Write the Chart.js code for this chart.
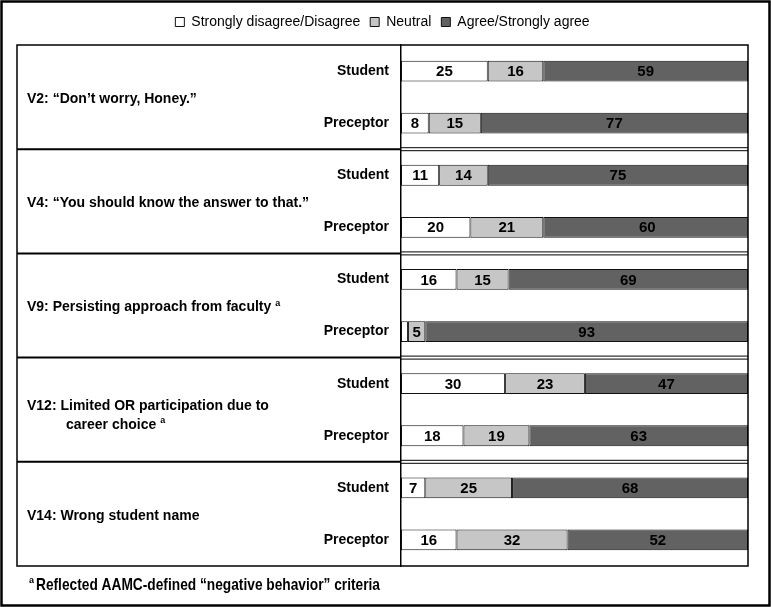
<!DOCTYPE html>
<html>
<head>
<meta charset="utf-8">
<script src="https://cdn.jsdelivr.net/npm/chart.js@4.4.1/dist/chart.umd.min.js"></script>
<style>
  html, body { margin: 0; padding: 0; background: #fff; }
  #wrap { width: 771px; height: 607px; }
</style>
</head>
<body>
<div id="wrap"><canvas id="chart"></canvas></div>
<script>
// survey items, one block per item (Student row + Preceptor row)
const groupLabels = [
  ['V2: \u201cDon\u2019t worry, Honey.\u201d'],
  ['V4: \u201cYou should know the answer to that.\u201d'],
  ['V9: Persisting approach from faculty'],
  ['V12: Limited OR participation due to', 'career choice'],
  ['V14: Wrong student name']
];
const groupFootnoted = [false, false, true, true, false];
const respondents = ['Student', 'Preceptor'];
const seriesNames = ['Strongly disagree/Disagree', 'Neutral', 'Agree/Strongly agree'];

// percentages, rows in order V2 Student, V2 Preceptor, V4 Student, ...
const disagree = [25, 8, 11, 20, 16, 2, 30, 18, 7, 16];
const neutral  = [16, 15, 14, 21, 15, 5, 23, 19, 25, 32];
const agree    = [59, 77, 75, 60, 69, 93, 47, 63, 68, 52];

const footnote = 'Reflected AAMC-defined \u201cnegative behavior\u201d criteria';

const rowLabels = [];
groupLabels.forEach(() => respondents.forEach(r => rowLabels.push(r)));

const FONT = '"Liberation Sans", Arial, sans-serif';

const boxPlugin = {
  id: 'boxes',
  afterDatasetsDraw(chart) {
    const ctx = chart.ctx;
    ctx.save();
    ctx.font = 'bold 15px ' + FONT;
    ctx.fillStyle = '#000';
    ctx.textAlign = 'center';
    ctx.textBaseline = 'middle';
    chart.data.datasets.forEach((ds, di) => {
      chart.getDatasetMeta(di).data.forEach((bar, i) => {
        const v = ds.data[i];
        if (v < 4) return;
        const p = bar.getProps(['x', 'base', 'y'], true);
        ctx.fillText(String(v), (p.x + p.base) / 2, p.y + 1);
      });
    });
    ctx.restore();
  },
  afterDraw(chart) {
    const ctx = chart.ctx;
    const area = chart.chartArea;
    const yScale = chart.scales.y;
    const left = yScale.left;
    ctx.save();

    // outer frame
    ctx.strokeStyle = '#000';
    ctx.lineWidth = 2.5;
    ctx.strokeRect(1.5, 1.5, chart.width - 3, chart.height - 3);

    // inner box
    ctx.lineWidth = 1.5;
    ctx.strokeRect(left, area.top, area.right - left, area.bottom - area.top);

    // separators between items
    for (let g = 1; g < groupLabels.length; g++) {
      const b = (yScale.getPixelForValue(2 * g - 1) + yScale.getPixelForValue(2 * g)) / 2;
      ctx.lineWidth = 2;
      ctx.beginPath();
      ctx.moveTo(left, b); ctx.lineTo(area.left, b);
      ctx.stroke();
      ctx.lineWidth = 1;
      ctx.beginPath();
      ctx.moveTo(area.left, b - 1.5); ctx.lineTo(area.right, b - 1.5);
      ctx.moveTo(area.left, b + 1.5); ctx.lineTo(area.right, b + 1.5);
      ctx.stroke();
    }

    // item labels
    ctx.fillStyle = '#000';
    ctx.textAlign = 'left';
    ctx.textBaseline = 'middle';
    groupLabels.forEach((lines, g) => {
      const c = (yScale.getPixelForValue(2 * g) + yScale.getPixelForValue(2 * g + 1)) / 2;
      const start = lines.length > 1 ? c - 4 : c + 2;
      lines.forEach((line, k) => {
        const x = k === 0 ? left + 10 : left + 49;
        const y = start + k * 19;
        ctx.font = 'bold 14px ' + FONT;
        ctx.fillText(line, x, y);
        if (groupFootnoted[g] && k === lines.length - 1) {
          const w = ctx.measureText(line).width;
          ctx.font = 'bold 9px ' + FONT;
          ctx.fillText('a', x + w + 4, y - 4);
        }
      });
    });

    // footnote, condensed to the width it has in the original
    const fy = area.bottom + 19;
    ctx.font = 'bold 9px ' + FONT;
    ctx.fillText('a', 29, fy - 4);
    ctx.font = 'bold 17px ' + FONT;
    const fw = ctx.measureText(footnote).width;
    ctx.save();
    ctx.translate(36, fy);
    ctx.scale(344 / fw, 1);
    ctx.fillText(footnote, 0, 0);
    ctx.restore();

    ctx.restore();
  }
};

const colors = ['#ffffff', '#c6c6c6', '#626262'];
const series = [disagree, neutral, agree];

new Chart(document.getElementById('chart'), {
  type: 'bar',
  data: {
    labels: rowLabels,
    datasets: series.map((d, i) => ({
      label: seriesNames[i],
      data: d,
      backgroundColor: colors[i],
      borderColor: '#111',
      borderWidth: 1,
      borderSkipped: false,
      categoryPercentage: 1,
      barPercentage: 0.4
    }))
  },
  options: {
    indexAxis: 'y',
    responsive: true,
    maintainAspectRatio: false,
    animation: false,
    layout: { padding: { top: 5, left: 17, right: 23, bottom: 41 } },
    plugins: {
      legend: {
        position: 'top',
        labels: {
          boxWidth: 9,
          boxHeight: 9,
          padding: 10,
          color: '#000',
          font: { family: FONT, size: 14 }
        }
      },
      // empty subtitle under the legend, used only as a spacer
      subtitle: {
        display: true,
        text: '',
        position: 'top',
        weight: 500,
        padding: 0,
        font: { size: 6, lineHeight: 1 }
      },
      tooltip: { enabled: false }
    },
    scales: {
      x: { display: false, stacked: true, min: 0, max: 100 },
      y: {
        stacked: true,
        grid: { display: false, drawTicks: false },
        border: { display: true, color: '#000', width: 1.5 },
        ticks: { color: '#000', padding: 12, font: { family: FONT, size: 14, weight: 'bold' } },
        afterFit(scale) { scale.width = 384; }
      }
    }
  },
  plugins: [boxPlugin]
});
</script>
</body>
</html>
